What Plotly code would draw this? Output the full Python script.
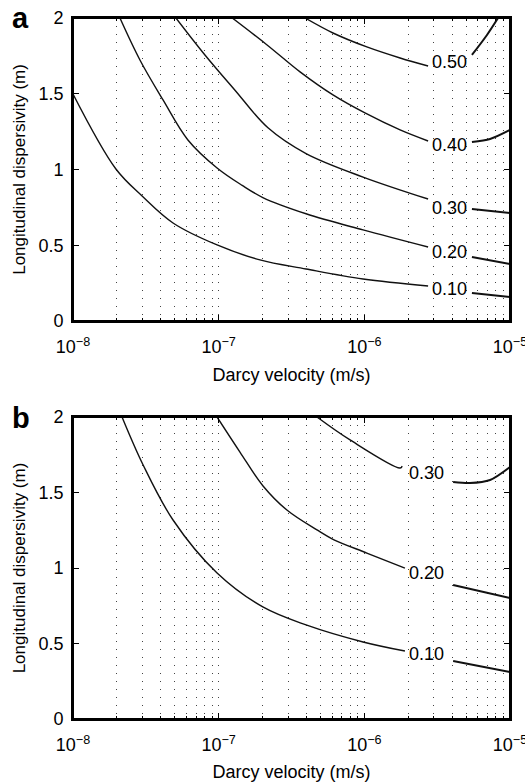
import math
import plotly.graph_objects as go

# ---------------- data ----------------
# Panel a contour lines: part before the label (pre) and after (post)
A10_X_PRE = [1.0e-8, 1.97e-8, 2.98e-8, 4.86e-8, 9.75e-8, 1.92e-7, 3.98e-7, 9.8e-7, 2.74e-6]
A10_Y_PRE = [1.498, 1.003, 0.825, 0.647, 0.502, 0.403, 0.343, 0.277, 0.231]
A10_X_POST = [5.48e-6, 1.0e-5]
A10_Y_POST = [0.185, 0.158]

A20_X_PRE = [2.10e-8, 2.88e-8, 4.15e-8, 6.15e-8, 9.75e-8, 1.45e-7, 2.01e-7, 3.98e-7, 9.8e-7, 2.74e-6]
A20_Y_PRE = [2.0, 1.723, 1.459, 1.195, 1.010, 0.895, 0.815, 0.708, 0.601, 0.488]
A20_X_POST = [5.48e-6, 1.0e-5]
A20_Y_POST = [0.422, 0.376]

A30_X_PRE = [5.09e-8, 8.05e-8, 1.29e-7, 2.18e-7, 3.98e-7, 9.8e-7, 2.74e-6]
A30_Y_PRE = [2.0, 1.756, 1.525, 1.275, 1.105, 0.950, 0.805]
A30_X_POST = [5.48e-6, 1.0e-5]
A30_Y_POST = [0.739, 0.713]

A40_X_PRE = [1.24e-7, 2.15e-7, 3.62e-7, 6.09e-7, 1.01e-6, 1.76e-6, 2.74e-6]
A40_Y_PRE = [2.0, 1.822, 1.644, 1.492, 1.373, 1.261, 1.188]
A40_X_POST = [5.48e-6, 7.30e-6, 1.0e-5]
A40_Y_POST = [1.182, 1.201, 1.261]

A50_X_PRE = [3.92e-7, 6.09e-7, 1.04e-6, 1.76e-6, 2.74e-6]
A50_Y_PRE = [2.0, 1.901, 1.809, 1.736, 1.683]
A50_X_POST = [5.48e-6, 6.95e-6, 8.28e-6]
A50_Y_POST = [1.756, 1.888, 2.0]

# Panel b contour lines
B10_X_PRE = [2.17e-8, 3.03e-8, 4.86e-8, 9.75e-8, 2.01e-7, 3.98e-7, 9.8e-7, 1.90e-6]
B10_Y_PRE = [2.0, 1.682, 1.318, 0.967, 0.742, 0.623, 0.510, 0.450]
B10_X_POST = [4.07e-6, 1.0e-5]
B10_Y_POST = [0.384, 0.311]

B20_X_PRE = [9.75e-8, 1.40e-7, 2.01e-7, 2.94e-7, 4.73e-7, 6.09e-7, 1.04e-6, 1.90e-6]
B20_Y_PRE = [2.0, 1.768, 1.545, 1.384, 1.252, 1.190, 1.099, 0.999]
B20_X_POST = [4.07e-6, 1.0e-5]
B20_Y_POST = [0.887, 0.801]

B30_X_PRE = [4.73e-7, 7.98e-7, 1.76e-6, 1.82e-6]
B30_Y_PRE = [2.0, 1.848, 1.662, 1.675]
B30_X_POST = [4.07e-6, 5.31e-6, 7.30e-6, 1.0e-5]
B30_Y_POST = [1.570, 1.563, 1.583, 1.669]

# contour label texts and positions
A_LABELS = ["0.50", "0.40", "0.30", "0.20", "0.10"]
A_LABEL_X = [3.85e-6] * 5
A_LABEL_Y = [1.712, 1.162, 0.747, 0.455, 0.211]
B_LABELS = ["0.30", "0.20", "0.10"]
B_LABEL_X = [2.69e-6] * 3
B_LABEL_Y = [1.630, 0.968, 0.428]

# axis ticks
X_TICKS = [1e-8, 1e-7, 1e-6, 1e-5]
X_TICKTEXT = ["10<sup>\u22128</sup>", "10<sup>\u22127</sup>", "10<sup>\u22126</sup>", "10<sup>\u22125</sup>"]
X_MINOR = [m * 10.0 ** e for e in (-8, -7, -6) for m in range(2, 10)]
Y_TICKS = [0, 0.5, 1, 1.5, 2]
Y_TICKTEXT = ["0", "0.5", "1", "1.5", "2"]

# ---------------- figure ----------------
FONT = "Liberation Sans, Arial, Helvetica, sans-serif"
LINE_COLOR = "#111111"

fig = go.Figure()

panel_a = [
    (A10_X_PRE, A10_Y_PRE, A10_X_POST, A10_Y_POST),
    (A20_X_PRE, A20_Y_PRE, A20_X_POST, A20_Y_POST),
    (A30_X_PRE, A30_Y_PRE, A30_X_POST, A30_Y_POST),
    (A40_X_PRE, A40_Y_PRE, A40_X_POST, A40_Y_POST),
    (A50_X_PRE, A50_Y_PRE, A50_X_POST, A50_Y_POST),
]
panel_b = [
    (B10_X_PRE, B10_Y_PRE, B10_X_POST, B10_Y_POST),
    (B20_X_PRE, B20_Y_PRE, B20_X_POST, B20_Y_POST),
    (B30_X_PRE, B30_Y_PRE, B30_X_POST, B30_Y_POST),
]

for curves, xa, ya in ((panel_a, "x", "y"), (panel_b, "x2", "y2")):
    for xp, yp, xq, yq in curves:
        fig.add_trace(go.Scatter(x=xp, y=yp, mode="lines", xaxis=xa, yaxis=ya,
                                 line=dict(color=LINE_COLOR, width=1.4, shape="spline", smoothing=1.0),
                                 hoverinfo="skip"))
        fig.add_trace(go.Scatter(x=xq, y=yq, mode="lines", xaxis=xa, yaxis=ya,
                                 line=dict(color=LINE_COLOR, width=2.0, shape="spline", smoothing=0.8),
                                 hoverinfo="skip"))

annotations = []
for t, x, y in zip(A_LABELS, A_LABEL_X, A_LABEL_Y):
    annotations.append(dict(text=t, x=math.log10(x), y=y, xref="x", yref="y",
                            showarrow=False, font=dict(size=18, color="black", family=FONT)))
for t, x, y in zip(B_LABELS, B_LABEL_X, B_LABEL_Y):
    annotations.append(dict(text=t, x=math.log10(x), y=y, xref="x2", yref="y2",
                            showarrow=False, font=dict(size=18, color="black", family=FONT)))

# panel letters
annotations.append(dict(text="<b>a</b>", x=-0.12, y=1.0, xref="paper", yref="paper",
                        xanchor="center", yanchor="middle", showarrow=False,
                        font=dict(size=29, color="black", family=FONT)))
annotations.append(dict(text="<b>b</b>", x=-0.12, y=0.43, xref="paper", yref="paper",
                        xanchor="center", yanchor="middle", showarrow=False,
                        font=dict(size=29, color="black", family=FONT)))


def xaxis_cfg(anchor):
    return dict(
        type="log", range=[-8.0001, -4.9999], anchor=anchor, domain=[0, 1],
        tickmode="array", tickvals=X_TICKS, ticktext=X_TICKTEXT,
        ticks="inside", ticklen=6, tickwidth=1, tickcolor="black",
        showline=True, linecolor="black", linewidth=1.6, mirror="ticks",
        showgrid=True, gridcolor="#444444", gridwidth=1, griddash="1px,7px",
        minor=dict(tickmode="array", tickvals=X_MINOR, showgrid=True,
                   gridcolor="#444444", gridwidth=1, griddash="1px,7px",
                   ticks="inside", ticklen=3, tickcolor="black"),
        zeroline=False, automargin=False,
        ticklabeloverflow="allow",
        ticklabelstandoff=9,
        tickfont=dict(size=18, color="black", family=FONT),
        title=dict(text="Darcy velocity (m/s)", font=dict(size=18, color="black", family=FONT),
                   standoff=12),
    )


def yaxis_cfg(anchor, domain):
    return dict(
        range=[0, 2], anchor=anchor, domain=domain,
        tickmode="array", tickvals=Y_TICKS, ticktext=Y_TICKTEXT,
        ticks="inside", ticklen=6, tickwidth=1, tickcolor="black",
        showline=True, linecolor="black", linewidth=1.6, mirror="ticks",
        showgrid=False, zeroline=False, automargin=False,
        tickfont=dict(size=18, color="black", family=FONT),
        ticklabelstandoff=4,
        title=dict(text="Longitudinal dispersivity (m)",
                   font=dict(size=17, color="black", family=FONT), standoff=9),
    )


def yaxis_right_cfg(over, anchor, domain):
    # right-hand frame side with inward ticks (no labels)
    return dict(
        range=[0, 2], overlaying=over, anchor=anchor, side="right", domain=domain,
        tickmode="array", tickvals=Y_TICKS, showticklabels=False,
        ticks="inside", ticklen=6, tickwidth=1, tickcolor="black",
        showline=True, linecolor="black", linewidth=2,
        showgrid=False, zeroline=False, automargin=False,
    )


fig.update_layout(
    width=525, height=782,
    margin=dict(l=73, r=15, t=18, b=63),
    paper_bgcolor="white", plot_bgcolor="white",
    showlegend=False,
    font=dict(family=FONT, size=17, color="black"),
    xaxis=xaxis_cfg("y"),
    yaxis=yaxis_cfg("x", [0.5678, 1.0]),
    xaxis2=xaxis_cfg("y2"),
    yaxis2=yaxis_cfg("x2", [0.0, 0.4308]),
    yaxis3=yaxis_right_cfg("y", "x", [0.5678, 1.0]),
    yaxis4=yaxis_right_cfg("y2", "x2", [0.0, 0.4308]),
    annotations=annotations,
)

# plot frames
for xr, yr in (("x domain", "y domain"), ("x2 domain", "y2 domain")):
    fig.add_shape(type="rect", xref=xr, yref=yr, x0=0, x1=1, y0=0, y1=1,
                  line=dict(color="black", width=2), layer="above")

fig.write_html("out.html", config={"displayModeBar": False},
               post_script="document.body.style.margin='0px';document.body.style.overflow='hidden';")
